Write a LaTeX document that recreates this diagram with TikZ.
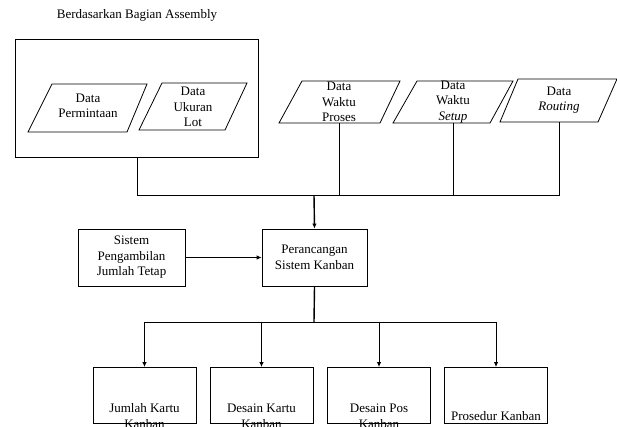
\documentclass[tikz,border=0pt]{standalone}
\usepackage{fontspec}
\setmainfont{Liberation Serif}
\usetikzlibrary{arrows.meta}
\begin{document}
\begin{tikzpicture}[x=1pt,y=-1pt,
  txt/.style={font=\fontsize{13}{15.5}\selectfont, align=center, inner sep=0pt},
  boxnode/.style={draw, line width=0.8pt},
  para/.style={draw, line width=0.8pt},
  thin/.style={line width=0.8pt},
  thick2/.style={line width=1.4pt},
  arr/.style={-{Latex[length=5pt,width=4.5pt]}}]
\clip (0,0) rectangle (617,426);
\useasboundingbox (0,0) rectangle (617,426);

% title and group box
\node[txt] (title) at (137,15) {Berdasarkan Bagian Assembly};
\draw[thin] (15,39) rectangle (258,157);
\coordinate (grp) at (137,157);

% parallelograms
\draw[para] (52,84) -- (147,84) -- (127,132) -- (28,132) -- cycle;
\node[txt] (perm) at (88,106) {Data\\Permintaan};
\draw[para] (162,83) -- (247,83) -- (225,130) -- (139,130) -- cycle;
\node[txt] (lot) at (193,107) {Data\\Ukuran\\Lot};

\draw[para] (302,81) -- (400,81) -- (380,123) -- (279,123) -- cycle;
\node[txt] (proses) at (339,102) {Data\\Waktu\\Proses};
\coordinate (prosesb) at (339,123);
\draw[para] (417,81) -- (513,81) -- (490,123) -- (393,123) -- cycle;
\node[txt] (setup) at (453,102) {Data\\Waktu\\\textit{Setup}};
\coordinate (setupb) at (453,123);
\draw[para] (518,79) -- (617,79) -- (598,122) -- (500,122) -- cycle;
\node[txt] (routing) at (559,100) {Data\\\textit{Routing}};
\coordinate (routingb) at (559,122);

% merge lines
\coordinate (j1) at (137,195);
\coordinate (jm) at (314,195);
\coordinate (j2) at (339,195);
\coordinate (j3) at (453,195);
\coordinate (j4) at (559,195);
\draw[thin] (grp) -- (j1) -- (j4) -- (routingb);
\draw[thin] (prosesb) -- (j2);
\draw[thin] (setupb) -- (j3);

% middle boxes
\node[boxnode, minimum width=105pt, minimum height=57pt, txt] (kanban) at (314.5,257.5) {Perancangan\\Sistem Kanban};
\node[boxnode, minimum width=107pt, minimum height=57pt, txt] (sistem) at (131.5,257.5) {Sistem\\Pengambilan\\Jumlah Tetap};
\draw[thick2, arr] (jm) -- (kanban.north);
\draw[thin, arr] (sistem.east) -- (kanban.west);

% bottom boxes
\foreach \n/\x in {b1/144.5, b2/261.5, b3/379, b4/496}{
  \draw[thin] (\x-51.5,367) rectangle (\x+51.5,423);
  \coordinate (\n) at (\x,367);
}
\node[txt] (t1) at (144.5,416) {Jumlah Kartu\\Kanban};
\node[txt] (t2) at (261.5,416) {Desain Kartu\\Kanban};
\node[txt] (t3) at (379,416) {Desain Pos\\Kanban};
\node[txt] (t4) at (496,416) {Prosedur Kanban};

\coordinate (s) at (314,322);
\coordinate (h1) at (144.5,322);
\coordinate (h2) at (261.5,322);
\coordinate (h3) at (379,322);
\coordinate (h4) at (496,322);
\draw[thick2] (kanban.south) -- (s);
\draw[thin] (h1) -- (h4);
\draw[thin, arr] (h1) -- (b1);
\draw[thin, arr] (h2) -- (b2);
\draw[thin, arr] (h3) -- (b3);
\draw[thin, arr] (h4) -- (b4);
\end{tikzpicture}
\end{document}
